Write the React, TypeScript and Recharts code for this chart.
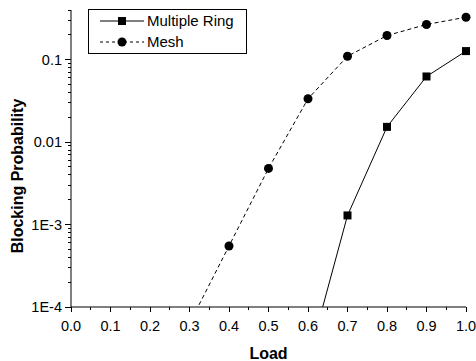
import React from 'react';
import { LineChart, Line, XAxis, YAxis, Legend } from 'recharts';

// load values on the x axis
const loads = [0.0, 0.1, 0.2, 0.3, 0.4, 0.5, 0.6, 0.7, 0.8, 0.9, 1.0];

// blocking probability per load (null = not plotted); values under 1E-4 run off the axis
const multipleRing = [null, null, null, null, null, null, 2.2e-5, 1.29e-3, 0.0153, 0.0625, 0.127];
const mesh = [null, null, null, 6.3e-5, 5.5e-4, 4.8e-3, 0.0335, 0.11, 0.196, 0.267, 0.327];

const xMajorTicks = [0.0, 0.1, 0.2, 0.3, 0.4, 0.5, 0.6, 0.7, 0.8, 0.9, 1.0];
const xMinorTicks = [0.05, 0.15, 0.25, 0.35, 0.45, 0.55, 0.65, 0.75, 0.85, 0.95];

const yMajorTicks = [1e-4, 1e-3, 0.01, 0.1];
const yMajorLabels = ['1E-4', '1E-3', '0.01', '0.1'];

const data = loads.map((load, i) => ({ load, ring: multipleRing[i], mesh: mesh[i] }));

const yMinorTicks: number[] = [];
yMajorTicks.forEach((d) => {
  for (let k = 2; k <= 9; k++) {
    const v = +(d * k).toPrecision(3);
    if (v <= 0.4) yMinorTicks.push(v);
  }
});
const yTicks = [...yMajorTicks, ...yMinorTicks].sort((a, b) => a - b);
const xTicks = [...xMajorTicks, ...xMinorTicks].sort((a, b) => a - b);

const FONT = '"Liberation Sans", Arial, sans-serif';

const XTick = (props: any) => {
  const { x, y, payload } = props;
  const major = xMajorTicks.some((t) => Math.abs(t - payload.value) < 1e-6);
  return (
    <g>
      <line x1={x} x2={x} y1={y} y2={y + (major ? 5 : 3)} stroke="#000" shapeRendering="crispEdges" />
      {major && (
        <text x={x} y={y + 24} textAnchor="middle" fontSize={14.5} fontFamily={FONT} fill="#000">
          {payload.value.toFixed(1)}
        </text>
      )}
    </g>
  );
};

const YTick = (props: any) => {
  const { x, y, payload } = props;
  const idx = yMajorTicks.findIndex((t) => Math.abs(t - payload.value) / t < 1e-6);
  const major = idx >= 0;
  return (
    <g>
      <line x1={x} x2={x - (major ? 6 : 3)} y1={y} y2={y} stroke="#000" shapeRendering="crispEdges" />
      {major && (
        <text x={x - 9} y={y + 5} textAnchor="end" fontSize={14.5} fontFamily={FONT} fill="#000">
          {yMajorLabels[idx]}
        </text>
      )}
    </g>
  );
};

const SquareDot = (props: any) => {
  const { cx, cy, value, index } = props;
  if (value == null || value < 1e-4) return <g key={index} />;
  return <rect key={index} x={cx - 4} y={cy - 4} width={8} height={8} fill="#000" />;
};

const CircleDot = (props: any) => {
  const { cx, cy, value, index } = props;
  if (value == null || value < 1e-4) return <g key={index} />;
  return <circle key={index} cx={cx} cy={cy} r={4.5} fill="#000" />;
};

const YLabel = () => (
  <text
    x={17}
    y={176}
    transform="rotate(-90 17 176)"
    textAnchor="middle"
    dy="0.35em"
    fontSize={16}
    fontWeight="bold"
    fontFamily={FONT}
    fill="#000"
  >
    Blocking Probability
  </text>
);

const LegendBox = () => (
  <svg width={159} height={45} style={{ display: 'block' }}>
    <rect x={0.5} y={0.5} width={158} height={44} fill="#fff" stroke="#000" />
    <line x1={12} x2={56} y1={12} y2={12} stroke="#000" />
    <rect x={30} y={8} width={8} height={8} fill="#000" />
    <text x={59} y={17} fontSize={15} fontFamily={FONT} fill="#000">Multiple Ring</text>
    <line x1={12} x2={56} y1={33} y2={33} stroke="#000" strokeDasharray="3 3" />
    <circle cx={34} cy={33} r={4.5} fill="#000" />
    <text x={59} y={38} fontSize={15} fontFamily={FONT} fill="#000">Mesh</text>
  </svg>
);

export default function App() {
  return (
    <div style={{ position: 'absolute', left: 0, top: 0, width: 476, height: 361, background: '#fff' }}>
      <LineChart width={476} height={361} data={data} margin={{ top: 10, right: 10, bottom: 0, left: 0 }}>
        <XAxis
          dataKey="load"
          type="number"
          domain={[0, 1]}
          ticks={xTicks}
          interval={0}
          height={54}
          tickSize={0}
          tickMargin={0}
          tick={<XTick />}
          stroke="#000"
          label={{ value: 'Load', position: 'insideBottom', offset: 2, fontSize: 16, fontWeight: 'bold', fontFamily: FONT, fill: '#000' }}
        />
        <YAxis
          scale="log"
          type="number"
          domain={[1e-4, 0.4]}
          allowDataOverflow
          ticks={yTicks}
          interval={0}
          width={71}
          tickSize={0}
          tickMargin={0}
          tick={<YTick />}
          stroke="#000"
          label={<YLabel />}
        />
        <Legend
          layout="vertical"
          align="center"
          verticalAlign="middle"
          wrapperStyle={{ left: 88, top: 9, width: 159, height: 45 }}
          content={() => <LegendBox />}
        />
        <Line
          dataKey="ring"
          name="Multiple Ring"
          stroke="#000"
          strokeWidth={1}
          dot={<SquareDot />}
          activeDot={false}
          connectNulls={false}
          isAnimationActive={false}
        />
        <Line
          dataKey="mesh"
          name="Mesh"
          stroke="#000"
          strokeWidth={1}
          strokeDasharray="4 3"
          dot={<CircleDot />}
          activeDot={false}
          isAnimationActive={false}
        />
      </LineChart>
    </div>
  );
}
